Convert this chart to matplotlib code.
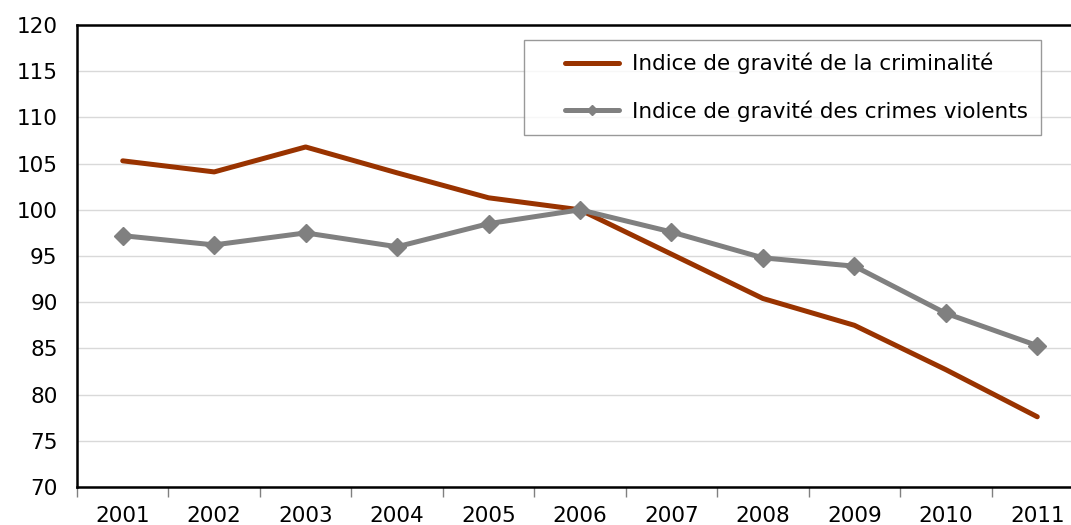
import matplotlib
matplotlib.use("Agg")
import matplotlib.pyplot as plt
from matplotlib.legend_handler import HandlerLine2D
import numpy as np

# -------------------------
# DONNÉES
# -------------------------
annees = ["2001", "2002", "2003", "2004", "2005", "2006",
          "2007", "2008", "2009", "2010", "2011"]
indice_criminalite = [105.3, 104.1, 106.8, 104.0, 101.3, 100.0,
                      95.2, 90.4, 87.5, 82.7, 77.6]
indice_violents = [97.2, 96.2, 97.5, 96.0, 98.5, 100.0,
                   97.6, 94.8, 93.9, 88.8, 85.3]

plt.rcParams["font.family"] = ["DejaVu Sans"]
taille = 15.5

fig = plt.figure(figsize=(10.71, 5.25), dpi=100)
ax = fig.add_axes([77 / 1071, 1 - 487 / 525, 1006 / 1071, 462 / 525])

x = np.arange(len(annees))
ax.plot(x, indice_criminalite, color="#993300", linewidth=3.6,
        solid_capstyle="round", label="Indice de gravité de la criminalité", zorder=3)
ax.plot(x, indice_violents, color="#808080", linewidth=3.6, marker="D",
        markersize=9, solid_capstyle="round",
        label="Indice de gravité des crimes violents", zorder=4)

ax.set_ylim(70, 120)
ax.set_yticks(range(70, 121, 5))
ax.set_xlim(-0.5, len(annees) - 0.5)
ax.set_xticks(x)
ax.set_xticklabels(annees)
ax.set_xticks(np.arange(-0.5, len(annees), 1), minor=True)

ax.grid(axis="y", color="#d9d9d9", linewidth=1)
ax.set_axisbelow(True)

for s in ["left", "bottom", "top"]:
    ax.spines[s].set_color("black")
    ax.spines[s].set_linewidth(1.8)
ax.spines["right"].set_visible(False)

ax.tick_params(axis="y", length=0, pad=14, labelsize=taille)
ax.tick_params(axis="x", which="major", length=0, pad=13.5, labelsize=taille)
ax.tick_params(axis="x", which="minor", length=7, width=1, color="#808080")

# légende (marqueur réduit comme dans Excel)
poignee = HandlerLine2D(xpad=1.3, marker_pad=0.3, numpoints=1)
leg = ax.legend(loc="upper left", bbox_to_anchor=((524 - 77) / 1006, 1 - (40 - 25) / 462),
                fontsize=taille, frameon=True, fancybox=False, handlelength=3.8,
                handletextpad=0.6, borderpad=0.6, labelspacing=1.2,
                borderaxespad=0, markerscale=0.6,
                handler_map={plt.Line2D: poignee})
leg.get_frame().set_edgecolor("#808080")
leg.get_frame().set_linewidth(1)

fig.savefig("out.png", dpi=100)
